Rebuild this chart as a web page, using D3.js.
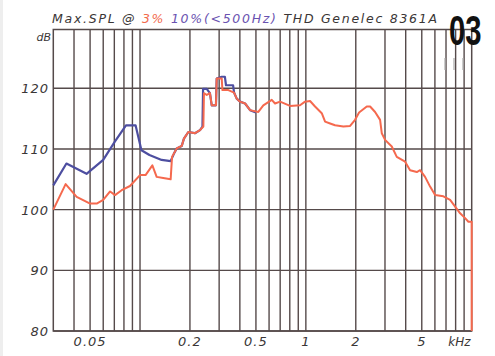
<!DOCTYPE html>
<html><head><meta charset="utf-8">
<script src="https://cdn.jsdelivr.net/npm/d3@7"></script>
<style>body{margin:0;background:#fff}svg{display:block}</style>
</head><body>
<svg id="c" width="495" height="356"></svg>
<script>
// ---- data ----
const yTicks = [80, 90, 100, 110, 120];
const xGridHz = [40,50,60,70,80,90,100,200,300,400,500,600,700,800,900,1000,2000,3000,4000,5000,6000,7000,8000,9000];
const xLabelHz = [50, 200, 500, 1000, 2000, 5000];
const xLabelText = ["0.05", "0.2", "0.5", "1", "2", "5"];

const redF = [30,35.6,41.5,50,54.8,60,66,70.7,77.5,87,100,108,118.7,126,138,153,156,166.5,178.5,184,195.6,214.6,230,241,243,252.6,264,270.7,287,290,311,314,341,369,383,401,430,461,517,554,623,652,699,803,922,989,1060,1136,1247,1306,1400,1500,1683,1848,1980,2094,2330,2440,2615,2803,2869,3004,3297,3534,3967,4251,4666,4885,5234,5612,6017,6750,7412,7944,8514,9124,9553,10000,10000];
const redV = [100.0,104.2,102.1,101.0,101.0,101.6,103.0,102.4,103.2,103.9,105.7,105.7,107.3,105.4,105.2,105.0,108.7,110.1,110.5,111.7,112.8,112.6,113.1,113.7,119.2,118.9,119.2,117.2,117.2,121.6,121.6,119.7,119.7,119.3,118.3,117.8,117.5,116.4,116.1,117.2,118.1,117.5,117.8,117.1,117.2,117.8,117.9,117.0,115.9,114.5,114.2,113.9,113.7,113.8,114.8,116.0,117.0,117.0,116.1,114.8,112.6,111.5,110.4,108.7,107.9,106.5,106.2,106.5,105.4,103.8,102.4,102.2,101.6,100.5,99.4,98.6,98.0,98.0,80.0];

const blueF = [30,36,47.6,60,70.5,82.3,94,102,114,135,153,160,166.5,178.5,184,195.6,214.6,230,238,240,252.6,264,270.7,287,290,311,325,330,341,364,369,383,401,430,461,500];
const blueV = [104.0,107.6,105.9,108.2,111.2,113.9,113.9,109.8,109.0,108.2,108.0,109.2,110.1,110.5,111.7,112.8,112.6,113.1,113.7,119.9,119.9,119.2,117.2,117.2,121.6,121.9,121.9,120.5,120.5,120.5,119.3,118.3,117.8,117.5,116.4,116.0];

// ---- layout ----
const svg = d3.select("#c");
const L = 53.3, R = 471.7, T = 29.5, B = 331;
const x = d3.scaleLog().domain([30, 10000]).range([L, R]);
const y = d3.scaleLinear().domain([80, 120]).range([B, 88.3]);
const gridCol = "#554a4a";

svg.append("rect").attr("x",0).attr("y",0).attr("width",3).attr("height",356).attr("fill","#eeeeee");

const g = svg.append("g");
g.selectAll("line.v").data(xGridHz).join("line")
  .attr("x1", d => x(d)).attr("x2", d => x(d)).attr("y1", T).attr("y2", B)
  .attr("stroke", gridCol).attr("stroke-width", 1.4);
g.selectAll("line.h").data(yTicks).join("line")
  .attr("x1", L).attr("x2", R).attr("y1", d => y(d)).attr("y2", d => y(d))
  .attr("stroke", gridCol).attr("stroke-width", 1.4);
g.append("rect").attr("x", L).attr("y", T).attr("width", R - L).attr("height", B - T)
  .attr("fill", "none").attr("stroke", gridCol).attr("stroke-width", 1.5);

// curves
const line = d3.line().x(d => x(d[0])).y(d => y(d[1]));
svg.append("path").datum(blueF.map((f, i) => [f, blueV[i]]))
  .attr("d", line).attr("fill", "none").attr("stroke", "#4d4ea0").attr("stroke-width", 2.2)
  .attr("stroke-linejoin", "round");
svg.append("path").datum(redF.map((f, i) => [f, redV[i]]))
  .attr("d", line).attr("fill", "none").attr("stroke", "#f5694e").attr("stroke-width", 2)
  .attr("stroke-linejoin", "round");

// axis labels
const txtCol = "#3a3636";
const font = "'DejaVu Sans', sans-serif";
svg.selectAll("text.yl").data(yTicks).join("text")
  .attr("x", 49).attr("y", d => y(d) + 5)
  .attr("text-anchor", "end").attr("font-family", font).attr("font-style", "italic")
  .attr("font-size", 13).attr("fill", txtCol).attr("letter-spacing", 1)
  .text(d => d);
svg.append("text").attr("x", 51).attr("y", 40.5).attr("text-anchor", "end")
  .attr("font-family", font).attr("font-style", "italic").attr("font-size", 11)
  .attr("fill", txtCol).text("dB");
svg.selectAll("text.xl").data(xLabelHz).join("text")
  .attr("x", d => x(d)).attr("y", 345.5).attr("text-anchor", "middle")
  .attr("font-family", font).attr("font-style", "italic").attr("font-size", 13)
  .attr("fill", txtCol).attr("letter-spacing", 1)
  .text((d, i) => xLabelText[i]);
svg.append("text").attr("x", 470.5).attr("y", 345.5).attr("text-anchor", "end")
  .attr("font-family", font).attr("font-style", "italic").attr("font-size", 12)
  .attr("fill", txtCol).text("kHz");

// title
const title = svg.append("text").attr("x", 52).attr("y", 22.5)
  .attr("font-family", font).attr("font-style", "italic").attr("font-size", 12.5)
  .attr("textLength", 385).attr("lengthAdjust", "spacing");
title.append("tspan").attr("fill", txtCol).text("Max.SPL @ ");
title.append("tspan").attr("fill", "#f26a4c").text("3% ");
title.append("tspan").attr("fill", "#6a52b0").text("10%(<500Hz) ");
title.append("tspan").attr("fill", txtCol).text("THD Genelec 8361A");

// badge
svg.append("text").attr("transform", "translate(449,45) scale(0.68,1)")
  .attr("font-family", "'Liberation Sans',sans-serif").attr("font-weight", "bold")
  .attr("font-size", 43).attr("fill", "#111").text("03");
svg.selectAll("line.m").data([445, 454, 463]).join("line")
  .attr("x1", d => d).attr("x2", d => d).attr("y1", 58).attr("y2", 70)
  .attr("stroke", "#aaa").attr("stroke-width", 1.2);
</script>
</body></html>
